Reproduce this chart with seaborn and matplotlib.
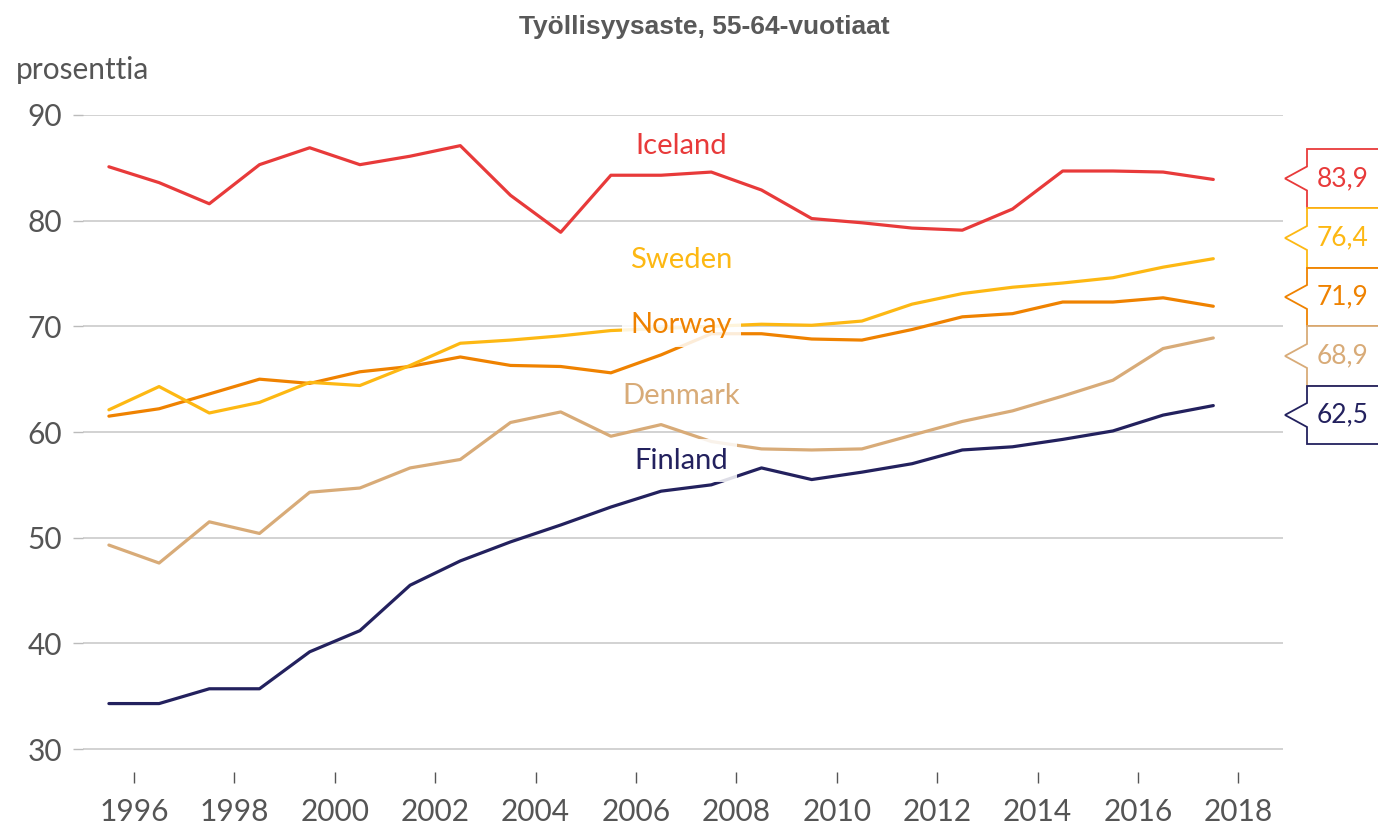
import numpy as np
import pandas as pd
import matplotlib
matplotlib.use("Agg")
import matplotlib.pyplot as plt
from matplotlib.patches import Polygon
import seaborn as sns

years = list(range(1995, 2018))
iceland = [85.1, 83.6, 81.6, 85.3, 86.9, 85.3, 86.1, 87.1, 82.4, 78.9, 84.3, 84.3,
           84.6, 82.9, 80.2, 79.8, 79.3, 79.1, 81.1, 84.7, 84.7, 84.6, 83.9]
sweden = [62.1, 64.3, 61.8, 62.8, 64.7, 64.4, 66.3, 68.4, 68.7, 69.1, 69.6, 69.8,
          70.0, 70.2, 70.1, 70.5, 72.1, 73.1, 73.7, 74.1, 74.6, 75.6, 76.4]
norway = [61.5, 62.2, 63.6, 65.0, 64.6, 65.7, 66.2, 67.1, 66.3, 66.2, 65.6, 67.3,
          69.3, 69.3, 68.8, 68.7, 69.7, 70.9, 71.2, 72.3, 72.3, 72.7, 71.9]
denmark = [49.3, 47.6, 51.5, 50.4, 54.3, 54.7, 56.6, 57.4, 60.9, 61.9, 59.6, 60.7,
           59.1, 58.4, 58.3, 58.4, 59.7, 61.0, 62.0, 63.4, 64.9, 67.9, 68.9]
finland = [34.3, 34.3, 35.7, 35.7, 39.2, 41.2, 45.5, 47.8, 49.6, 51.2, 52.9, 54.4,
           55.0, 56.6, 55.5, 56.2, 57.0, 58.3, 58.6, 59.3, 60.1, 61.6, 62.5]

countries = ["Iceland", "Sweden", "Norway", "Denmark", "Finland"]
series = {"Iceland": iceland, "Sweden": sweden, "Norway": norway,
          "Denmark": denmark, "Finland": finland}
colors = {"Iceland": "#E83A3A", "Sweden": "#FDB813", "Norway": "#EF8200",
          "Denmark": "#D8AB78", "Finland": "#23215E"}
xticks = list(range(1996, 2019, 2))
yticks = [30, 40, 50, 60, 70, 80, 90]
title = "Työllisyysaste, 55-64-vuotiaat"
ylabel = "prosenttia"

rows = []
for c in countries:
    for y, v in zip(years, series[c]):
        rows.append({"year": y + 0.5, "value": v, "country": c})
df = pd.DataFrame(rows)

sns.set_theme(style="white")
plt.rcParams['font.family'] = ['Lato', 'DejaVu Sans']

W, H = 1378, 825
fig = plt.figure(figsize=(W / 100, H / 100), dpi=100)
ax_left, ax_right, ax_top, ax_bottom = 83, 1283, 115, 772
ax = fig.add_axes([ax_left / W, 1 - ax_bottom / H, (ax_right - ax_left) / W, (ax_bottom - ax_top) / H])

ax.set_ylim(30 - (ax_bottom - 749) / 10.57, 90)
ax.set_xlim(1996 - (134 - ax_left) / 50.2, 1996 + (ax_right - 134) / 50.2)

for yv in yticks:
    ax.axhline(yv, color="#CFCFCF", lw=1.3, zorder=0)

order = ["Finland", "Denmark", "Norway", "Sweden", "Iceland"]
for c in order:
    sns.lineplot(data=df[df.country == c], x="year", y="value", color=colors[c],
                 lw=2.3, ax=ax, legend=False, zorder=3)

ax.set_xticks(xticks)
ax.set_yticks(yticks)
ax.set_xticklabels([str(t) for t in xticks])
ax.set_yticklabels([str(t) for t in yticks])
ax.tick_params(axis="x", direction="out", length=8, width=1, color="#555555",
               labelsize=21.5, labelcolor="#555555", pad=11)
ax.tick_params(axis="y", direction="out", length=7, width=1, color="#BBBBBB",
               labelsize=21.5, labelcolor="#555555", pad=8)
ax.tick_params(axis="y", which="both", left=True)
ax.tick_params(axis="x", which="both", bottom=True)
for s in ax.spines.values():
    s.set_visible(False)
ax.set_xlabel("")
ax.set_ylabel("")

# series labels
label_pos = {"Iceland": (2006.9, 87.1), "Sweden": (2006.9, 76.3), "Norway": (2006.9, 70.1),
             "Denmark": (2006.9, 63.4), "Finland": (2006.9, 57.3)}
for c in countries:
    x, y = label_pos[c]
    ax.text(x, y, c, color=colors[c], fontsize=21, ha="center", va="center", zorder=4,
            bbox=dict(boxstyle="square,pad=0.3", fc="white", ec="none", alpha=0.85))

fig.text(704 / W, 1 - 27 / H, title, ha="center", va="center", fontsize=19,
         fontweight="bold", color="#595959", family=["Liberation Sans", "DejaVu Sans"])
fig.text(16 / W, 1 - 70 / H, ylabel, ha="left", va="center", fontsize=21.5, color="#555555")

# callouts on the right
def fp(x, y):
    return (x / W, 1 - y / H)

tops = [149, 208, 268, 326, 386]
bottoms = [208, 268, 326, 386, 444]
box_left, tip_x, box_right = 1307, 1285, 1390
for c, t, b in zip(countries, tops, bottoms):
    mid = (t + b) / 2
    pts = [fp(box_right, t), fp(box_left, t), fp(box_left, mid - 12), fp(tip_x, mid),
           fp(box_left, mid + 12), fp(box_left, b), fp(box_right, b)]
    poly = Polygon(pts, closed=False, transform=fig.transFigure, fc="white",
                   ec=colors[c], lw=1.3, clip_on=False)
    fig.patches.append(poly)
    val = series[c][-1]
    fig.text(1343 / W, 1 - mid / H, f"{val:.1f}".replace(".", ","), color=colors[c],
             fontsize=19, ha="center", va="center")

fig.savefig("out.png", dpi=100)
